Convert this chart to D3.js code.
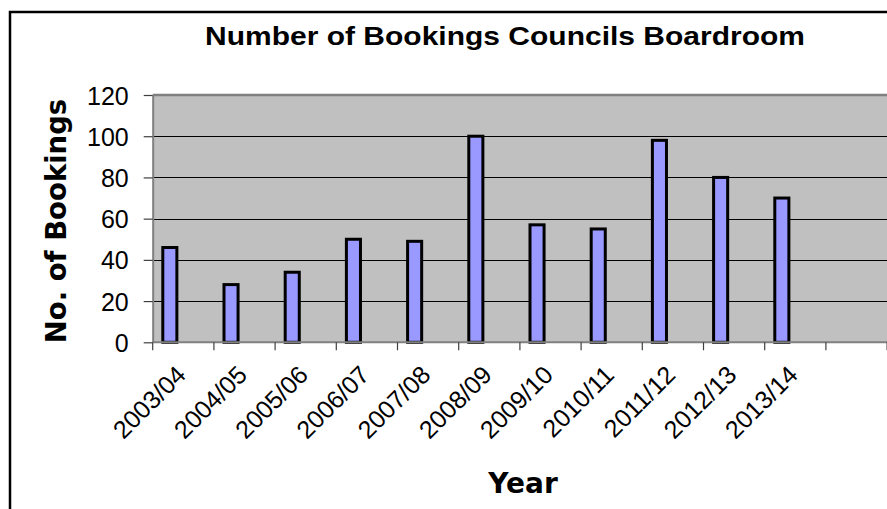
<!DOCTYPE html>
<html><head><meta charset="utf-8">
<script src="https://cdn.jsdelivr.net/npm/d3@7"></script>
<style>html,body{margin:0;padding:0;background:#fff;overflow:hidden}</style>
</head><body>
<svg id="c" width="887" height="509"></svg>
<script>
const categories = ["2003/04","2004/05","2005/06","2006/07","2007/08","2008/09","2009/10","2010/11","2011/12","2012/13","2013/14",""];
const bookings = [46,28,34,50,49,100,57,55,98,80,70];
const yTicks = [0,20,40,60,80,100,120];
const chartTitle = "Number of Bookings Councils Boardroom";
const xTitle = "Year";
const yTitle = "No. of Bookings";

const W = 887, H = 509;
const plot = {left: 152.7, right: 887.1, top: 95, bottom: 342.3};
const svg = d3.select("#c");

svg.append("rect").attr("width", W).attr("height", H).attr("fill", "#fff");
svg.append("rect").attr("x", 10).attr("y", 12).attr("width", 1000).attr("height", 1000)
  .attr("fill", "none").attr("stroke", "#000").attr("stroke-width", 2.5);

const x = d3.scaleBand().domain(categories).range([plot.left, plot.right]).padding(0);
const y = d3.scaleLinear().domain([0, 120]).range([plot.bottom, plot.top]);

// plot area
svg.append("rect").attr("x", plot.left).attr("y", plot.top)
  .attr("width", plot.right - plot.left).attr("height", plot.bottom - plot.top)
  .attr("fill", "#c0c0c0");

// gridlines
svg.append("g").selectAll("line").data(yTicks.filter(d => d > 0 && d < 120)).join("line")
  .attr("x1", plot.left).attr("x2", plot.right)
  .attr("y1", d => Math.round(y(d)) + 0.5).attr("y2", d => Math.round(y(d)) + 0.5)
  .attr("stroke", "#000").attr("stroke-width", 1);

// top border of plot area
svg.append("line").attr("x1", plot.left).attr("x2", plot.right)
  .attr("y1", y(120)).attr("y2", y(120)).attr("stroke", "#808080").attr("stroke-width", 2.5);

// bars
const bw = x.bandwidth();
svg.append("g").selectAll("rect").data(bookings).join("rect")
  .attr("x", (d, i) => x(categories[i]) + bw * 0.165)
  .attr("width", bw * 0.23)
  .attr("y", d => y(d))
  .attr("height", d => y(0) - y(d))
  .attr("fill", "#9999ff").attr("stroke", "#000").attr("stroke-width", 3);

// y axis
const ya = svg.append("g").attr("transform", `translate(${plot.left},0)`)
  .call(d3.axisLeft(y).tickValues(yTicks).tickSize(9).tickPadding(15).tickSizeOuter(0));
ya.select(".domain").attr("stroke", "#808080").attr("stroke-width", 2);
ya.selectAll(".tick line").attr("stroke", "#404040").attr("stroke-width", 1.2);
ya.selectAll(".tick text").attr("font-family", "Liberation Sans, Arial, sans-serif")
  .attr("font-size", 25).attr("fill", "#000").attr("dy", "0.36em");

// x axis line
svg.append("line").attr("x1", plot.left).attr("x2", plot.right)
  .attr("y1", y(0)).attr("y2", y(0)).attr("stroke", "#808080").attr("stroke-width", 2);

// x ticks at band boundaries
const bounds = categories.map(c => x(c)).concat([x(categories[categories.length - 1]) + bw]);
svg.append("g").selectAll("line").data(bounds).join("line")
  .attr("x1", d => d).attr("x2", d => d)
  .attr("y1", y(0)).attr("y2", y(0) + 8)
  .attr("stroke", "#404040").attr("stroke-width", 1.2);

// x labels
svg.append("g").selectAll("text").data(categories).join("text")
  .attr("transform", d => `translate(${x(d) + bw / 2 + 4},${y(0) + 34}) rotate(-45)`)
  .attr("text-anchor", "end")
  .attr("font-family", "Liberation Sans, Arial, sans-serif").attr("font-size", 25)
  .attr("fill", "#000").text(d => d);

// titles
function fitX(sel, target) {
  const w = sel.node().getComputedTextLength();
  return target / w;
}
const t = svg.append("text").attr("font-family", "Liberation Sans, Arial, sans-serif")
  .attr("font-weight", "bold").attr("font-size", 25).attr("text-anchor", "middle")
  .attr("fill", "#000").text(chartTitle);
const s = fitX(t, 600);
t.attr("transform", `translate(505,45) scale(${s},1)`);

svg.append("text").attr("font-family", "DejaVu Sans, Verdana, sans-serif")
  .attr("font-weight", "bold").attr("font-size", 28).attr("text-anchor", "middle")
  .attr("x", 523).attr("y", 493).attr("fill", "#000").text(xTitle);

svg.append("text").attr("font-family", "DejaVu Sans, Verdana, sans-serif")
  .attr("font-weight", "bold").attr("font-size", 27.5).attr("text-anchor", "middle")
  .attr("transform", `translate(66,221) rotate(-90)`).attr("fill", "#000").text(yTitle);
</script>
</body></html>
